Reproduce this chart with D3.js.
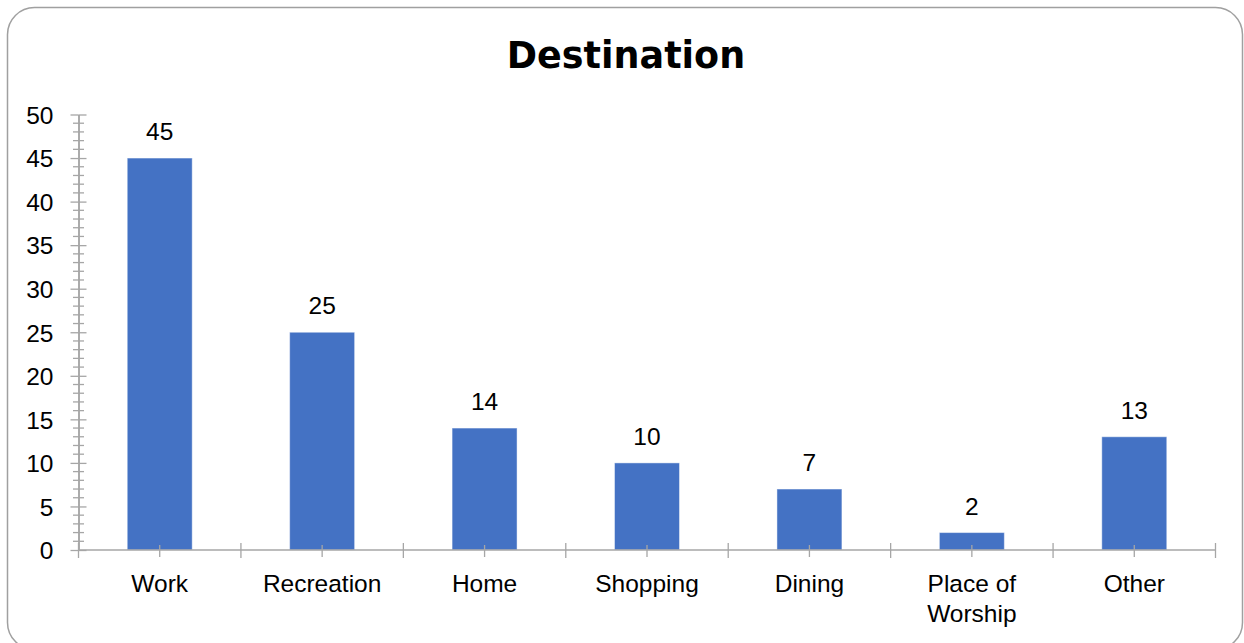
<!DOCTYPE html>
<html>
<head>
<meta charset="utf-8">
<script src="https://cdn.jsdelivr.net/npm/d3@7"></script>
<style>
  html, body { margin: 0; padding: 0; background: #fff; }
  svg { display: block; }
</style>
</head>
<body>
<svg id="chart" width="1244" height="643"></svg>
<script>
// Trip destinations and their counts
const categories = ["Work", "Recreation", "Home", "Shopping", "Dining", "Place of Worship", "Other"];
const values = [45, 25, 14, 10, 7, 2, 13];
const yTicks = [0, 5, 10, 15, 20, 25, 30, 35, 40, 45, 50];

const svg = d3.select("#chart");
const plot = { left: 78.5, right: 1215.5, top: 114.5, bottom: 550 };
const labelFont = "'Liberation Sans', Arial, sans-serif";
const labelSize = 24.5;
const axisColor = "#a6a6a6";
const barColor = "#4472c4";

// Rounded chart frame
svg.append("rect")
  .attr("x", 7.5).attr("y", 7.5)
  .attr("width", 1235).attr("height", 642)
  .attr("rx", 27).attr("ry", 27)
  .attr("fill", "#fff")
  .attr("stroke", "#a0a0a0")
  .attr("stroke-width", 1.5);

// Title
svg.append("text")
  .attr("x", 626).attr("y", 68)
  .attr("text-anchor", "middle")
  .attr("font-family", "'DejaVu Sans', sans-serif")
  .attr("font-weight", "bold")
  .attr("font-size", 36.5)
  .attr("fill", "#000")
  .text("Destination");

const x = d3.scaleBand().domain(categories).range([plot.left, plot.right]).padding(0);
const y = d3.scaleLinear().domain([0, 50]).range([plot.bottom, plot.top]);

// Bars
const barW = x.bandwidth() * 0.4;
const rows = categories.map((c, i) => ({ c, v: values[i] }));
svg.append("g").selectAll("rect")
  .data(rows)
  .join("rect")
  .attr("x", d => x(d.c) + (x.bandwidth() - barW) / 2)
  .attr("y", d => y(d.v))
  .attr("width", barW)
  .attr("height", d => y(0) - y(d.v))
  .attr("fill", barColor)
  .attr("stroke", "#ffffff")
  .attr("stroke-opacity", 0.45)
  .attr("stroke-width", 1);

// Value labels
svg.append("g").selectAll("text")
  .data(rows)
  .join("text")
  .attr("x", d => x(d.c) + x.bandwidth() / 2)
  .attr("y", d => y(d.v) - 18)
  .attr("text-anchor", "middle")
  .attr("font-family", labelFont)
  .attr("font-size", labelSize)
  .attr("fill", "#000")
  .text(d => d.v);

// Y axis: minor ticks every unit, crossing the axis line
const minor = d3.range(0, 51).filter(v => v % 5 !== 0);
svg.append("g").selectAll("line")
  .data(minor)
  .join("line")
  .attr("x1", plot.left - 5.5).attr("x2", plot.left + 5.5)
  .attr("y1", d => y(d)).attr("y2", d => y(d))
  .attr("stroke", axisColor).attr("stroke-width", 1.3);

// Major ticks on both sides of the line
const leftAxis = d3.axisLeft(y).tickValues(yTicks).tickSize(8).tickPadding(17).tickSizeOuter(0);
const rightAxis = d3.axisRight(y).tickValues(yTicks).tickSize(8).tickFormat("").tickSizeOuter(0);
const gl = svg.append("g").attr("transform", `translate(${plot.left},0)`).call(leftAxis);
const gr = svg.append("g").attr("transform", `translate(${plot.left},0)`).call(rightAxis);
[gl, gr].forEach(g => {
  g.select(".domain").attr("stroke", axisColor).attr("stroke-width", 1.5);
  g.selectAll(".tick line").attr("stroke", axisColor).attr("stroke-width", 1.3);
});
gl.selectAll(".tick text")
  .attr("font-family", labelFont)
  .attr("font-size", labelSize)
  .attr("fill", "#000")
  .attr("dy", "0.36em");

// X axis line
svg.append("line")
  .attr("x1", plot.left).attr("x2", plot.right)
  .attr("y1", plot.bottom).attr("y2", plot.bottom)
  .attr("stroke", axisColor).attr("stroke-width", 1.5);

// Category boundary ticks
const bounds = categories.map(c => x(c)).concat([plot.right]);
svg.append("g").selectAll("line")
  .data(bounds)
  .join("line")
  .attr("x1", d => d).attr("x2", d => d)
  .attr("y1", plot.bottom - 7).attr("y2", plot.bottom + 8)
  .attr("stroke", axisColor).attr("stroke-width", 1.3);

// Category centre ticks
svg.append("g").selectAll("line")
  .data(categories)
  .join("line")
  .attr("x1", d => x(d) + x.bandwidth() / 2).attr("x2", d => x(d) + x.bandwidth() / 2)
  .attr("y1", plot.bottom - 5).attr("y2", plot.bottom + 7)
  .attr("stroke", axisColor).attr("stroke-width", 1.3);

// Category labels, wrapped to two lines where needed
const wrap = { "Place of Worship": ["Place of", "Worship"] };
svg.append("g").selectAll("text")
  .data(categories)
  .join("text")
  .attr("x", d => x(d) + x.bandwidth() / 2)
  .attr("y", plot.bottom + 42)
  .attr("text-anchor", "middle")
  .attr("font-family", labelFont)
  .attr("font-size", labelSize)
  .attr("fill", "#000")
  .each(function (d) {
    const lines = wrap[d] || [d];
    const t = d3.select(this);
    lines.forEach((ln, i) => {
      t.append("tspan")
        .attr("x", x(d) + x.bandwidth() / 2)
        .attr("dy", i === 0 ? 0 : 29.5)
        .text(ln);
    });
  });
</script>
</body>
</html>
